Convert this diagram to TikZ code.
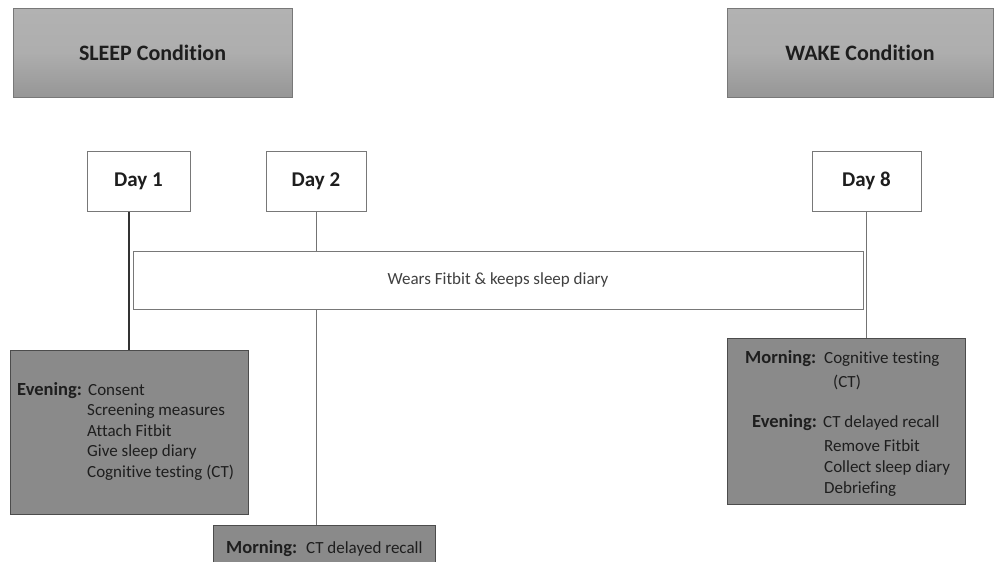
\documentclass[tikz,border=0pt]{standalone}
\usepackage{fontspec}
\setmainfont{Carlito}[Ligatures=NoCommon]
\usetikzlibrary{calc}
\definecolor{hdrtop}{RGB}{178,178,178}
\definecolor{hdrbot}{RGB}{150,150,150}
\definecolor{boxgray}{RGB}{138,138,138}
\definecolor{edgegray}{RGB}{120,120,120}
\definecolor{txtdark}{RGB}{30,30,30}
\tikzset{
  hdr/.style={draw=edgegray, line width=0.8pt, top color=hdrtop, bottom color=hdrbot, middle color=hdrtop!85!hdrbot, inner sep=0pt, font=\fontsize{22}{26}\selectfont\bfseries, text=txtdark},
  daybox/.style={draw=edgegray, line width=1pt, fill=white, inner sep=0pt, font=\fontsize{21}{25}\selectfont\bfseries, text=txtdark},
  barbox/.style={draw=edgegray, line width=1pt, fill=white, inner sep=0pt, font=\fontsize{17}{20}\selectfont, text=black!75},
  graybox/.style={draw=black!70, line width=0.8pt, fill=boxgray, inner sep=0pt},
  lbl/.style={anchor=base west, inner sep=0pt, font=\fontsize{18.5}{22}\selectfont\bfseries, text=txtdark},
  item/.style={anchor=base west, inner sep=0pt, font=\fontsize{17}{20}\selectfont, text=txtdark},
  conn/.style={draw=black!55, line width=0.8pt},
  connthick/.style={draw=black!80, line width=1.6pt},
}
\begin{document}
\begin{tikzpicture}[x=1pt,y=-1pt]
\useasboundingbox[fill=white] (0,0) rectangle (994,562);
% headers
\node[hdr, minimum width=279pt, minimum height=89pt] (sleep) at (152.5,52.5) {SLEEP Condition};
\node[hdr, minimum width=266pt, minimum height=89pt] (wake) at (860,52.5) {WAKE Condition};
% days
\node[daybox, minimum width=103pt, minimum height=60pt] (d1) at (138.5,181) {Day 1};
\node[daybox, minimum width=100pt, minimum height=60pt] (d2) at (316,181) {Day 2};
\node[daybox, minimum width=109pt, minimum height=60pt] (d8) at (866.5,181) {Day 8};
% bar
\node[barbox, minimum width=730pt, minimum height=58pt] (bar) at (498,280) {Wears Fitbit \& keeps sleep diary};
% gray boxes
\node[graybox, minimum width=238pt, minimum height=164pt] (ev) at (129,432) {};
\node[graybox, minimum width=222pt, minimum height=50pt] (mo) at (324,550) {};
\node[graybox, minimum width=238pt, minimum height=166pt] (wk) at (846,421) {};
% connectors
\draw[connthick] (ev.north |- d1.south) -- (ev.north);
\draw[conn] (d2.south) -- (bar.north -| d2.south);
\draw[conn] (bar.south -| d2.south) -- (mo.north -| d2.south);
\draw[conn] (d8.south) -- (wk.north -| d8.south);
% evening text
\node[lbl] (evl) at (17,395) {Evening:};
\node[item] (ev1) at (88,395) {Consent};
\node[item] (ev2) at (87,415.5) {Screening measures};
\node[item] (ev3) at (87,436) {Attach Fitbit};
\node[item] (ev4) at (87,456.5) {Give sleep diary};
\node[item] (ev5) at (87,477) {Cognitive testing (CT)};
% morning day2
\node[lbl] (mol) at (226,553) {Morning:};
\node[item] (mo1) at (306,553) {CT delayed recall};
% wake box text
\node[lbl] (wml) at (745,363) {Morning:};
\node[item] (wm1) at (824,363) {Cognitive testing};
\node[item] (wm2) at (833,387) {(CT)};
\node[lbl] (wel) at (752,427) {Evening:};
\node[item] (we1) at (823,427) {CT delayed recall};
\node[item] (we2) at (824,451) {Remove Fitbit};
\node[item] (we3) at (824,472) {Collect sleep diary};
\node[item] (we4) at (824,493) {Debriefing};
\end{tikzpicture}
\end{document}
